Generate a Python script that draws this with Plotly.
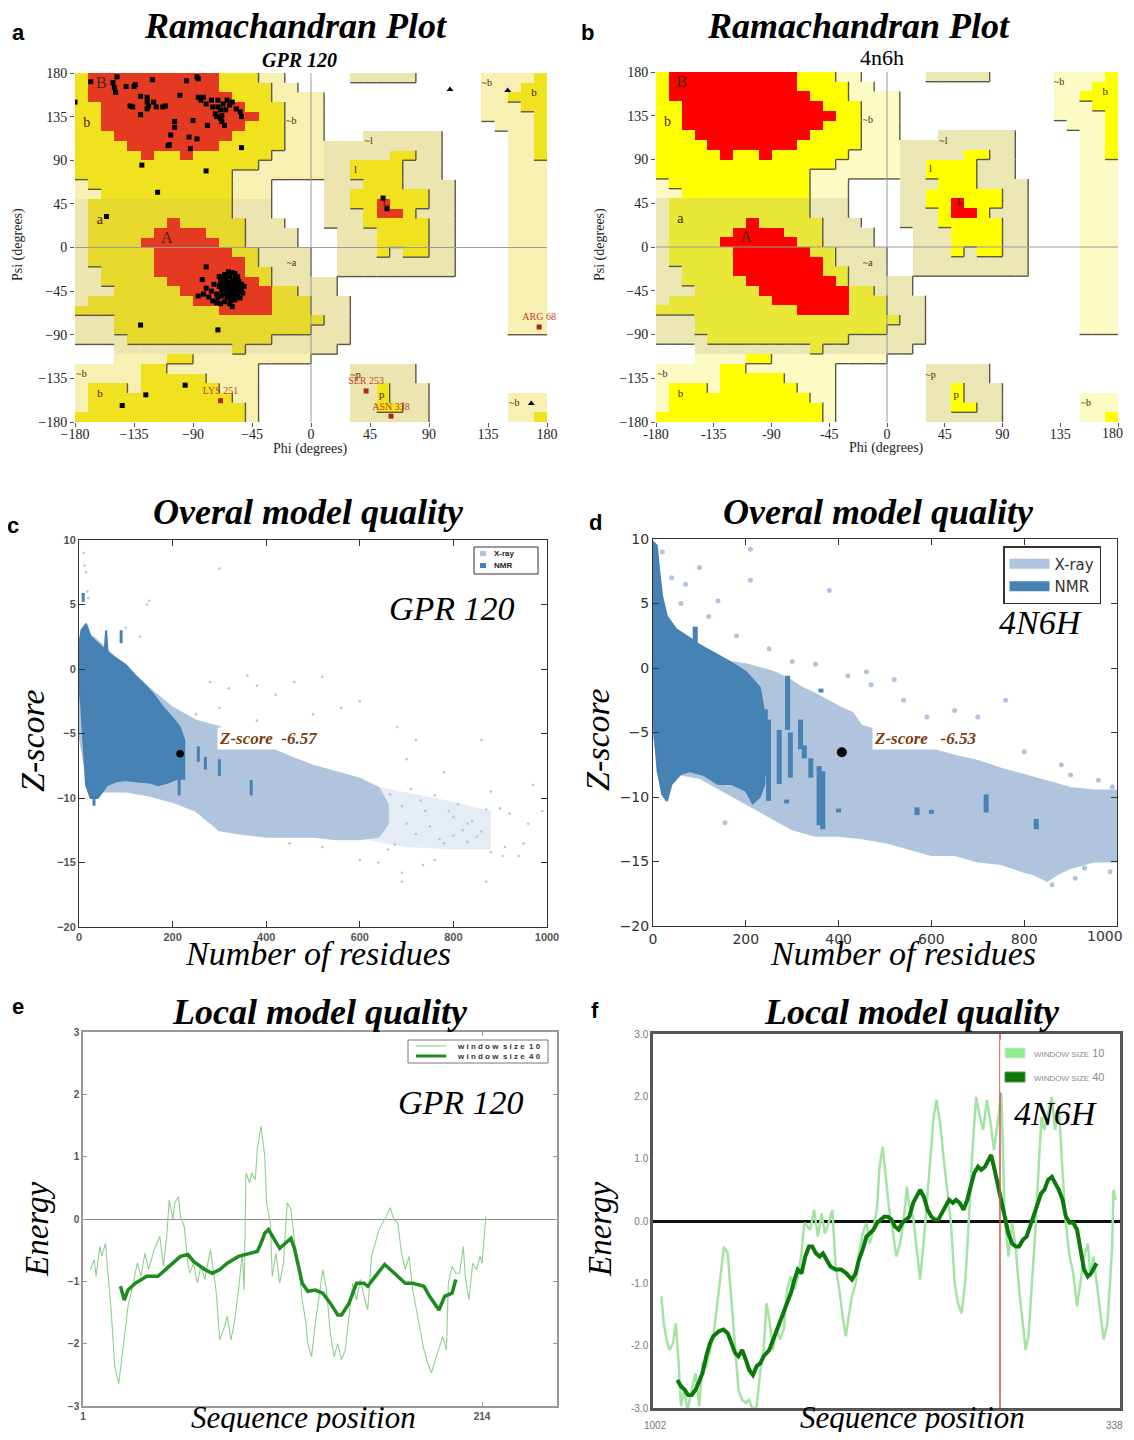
import plotly.graph_objects as go

SERIF = "Liberation Serif"
SANS = "Liberation Sans"
MPL = "DejaVu Sans"

# ---------------- Ramachandran region map (10 deg cells) ----------------
# rows: psi 180 -> -180 (top to bottom); columns: phi -180 -> 180
# '.' disallowed, 'g' generous, 'k' generous (tinted), 'y' allowed, 'o' allowed (tinted), 'R' core
RAMA_ROWS = [
    "y"+"R"*10+"y"*3+"g"*2+"."*2 + "."*3+"k"*5+"."*5 + "g"*4+"y",
    "y"+"R"*10+"y"*4+"g"*2+"." + "."*13 + "g"*3+"y"*2,
    "y"+"R"*11+"y"*3+"g"*3 + "g"+"."*12 + "g"*2+"y"*3,
    "y"*2+"R"*11+"y"*3+"g"*2 + "g"+"."*12 + "g"*3+"y"*2,
    "y"*2+"R"*12+"y"*2+"g"*2 + "g"+"."*12 + "g"*4+"y",
    "y"*2+"R"*11+"y"*3+"g"*2 + "g"+"."*12 + "."+"g"*3+"y",
    "y"*3+"R"*9+"y"*4+"g"*2 + "g"+"."*3+"k"*6+"."*3 + "."*2+"g"*2+"y",
    "y"*4+"R"*7+"y"*5+"g"*2 + "g"+"k"*9+"."*3 + "."*2+"g"*2+"y",
    "y"*5+"R"+"y"*2+"R"+"y"*6+"g"*3 + "g"+"k"*5+"y"*2+"k"*2+"."*3 + "."*2+"g"*2+"y",
    "y"*14+"g"*4 + "g"+"k"*2+"y"*4+"k"*3+"."*3 + "."*2+"g"*3,
    "y"*12+"g"*6 + "g"+"k"*2+"y"*4+"k"*3+"."*3 + "."*2+"g"*3,
    "g"+"y"*11+"g"*3+"."*3 + "."+"k"*3+"y"*3+"k"*4+"."*2 + "."*2+"g"*3,
    "g"*2+"y"*10+"g"*3+"."*3 + "."+"k"*2+"y"*6+"k"*2+"."*2 + "."*2+"g"*3,
    "k"+"o"*11+"k"*3+"."*3 + "."+"k"*2+"y"*2+"R"+"y"*3+"k"*2+"."*2 + "."*2+"g"*3,
    "k"+"o"*11+"k"*3+"."*3 + "."+"k"*3+"y"+"R"*2+"y"+"k"*3+"."*2 + "."*2+"g"*3,
    "k"+"o"*6+"R"+"o"*5+"k"*3+"."*2 + "."+"k"*3+"y"*5+"k"*2+"."*2 + "."*2+"g"*3,
    "k"+"o"*5+"R"*4+"o"*3+"k"*4+"." + "."*2+"k"*3+"y"*4+"k"*2+"."*2 + "."*2+"g"*3,
    "k"+"o"*4+"R"*6+"o"*2+"k"*4+"." + "."*2+"k"*3+"y"*4+"k"*2+"."*2 + "."*2+"g"*3,
    "k"+"o"*5+"R"*6+"o"*2+"k"*4 + "."*2+"k"*3+"y"+"k"+"y"*2+"k"*2+"."*2 + "."*2+"g"*3,
    "k"+"o"*5+"R"*7+"o"+"k"*4 + "."*2+"k"*9+"."*2 + "."*2+"g"*3,
    "k"*2+"o"*4+"R"*7+"o"*2+"k"*3 + "."*2+"k"*9+"."*2 + "."*2+"g"*3,
    "k"*2+"o"*5+"R"*7+"o"+"k"*3 + "k"*2+"."*11 + "."*2+"g"*3,
    "k"*3+"o"*5+"R"*7+"o"*2+"k" + "k"*2+"."*11 + "."*2+"g"*3,
    "k"+"o"*8+"R"*6+"o"*3 + "k"*3+"."*10 + "."*2+"g"*3,
    "o"*11+"R"*4+"o"*3 + "k"*3+"."*10 + "."*2+"g"*3,
    "k"*3+"o"*15 + "o"+"k"*2+"."*10 + "."*2+"g"*3,
    "k"*3+"o"*15 + "k"*3+"."*10 + "."*2+"g"*3,
    "k"*4+"o"*11+"k"*3 + "k"*3+"."*10 + "."*5,
    "."*3+"k"*9+"o"+"k"*5 + "k"*2+"."*11 + "."*5,
    "."*3+"g"*4+"y"*2+"g"*9 + "."*13 + "."*5,
    "g"*5+"y"*2+"g"*7+"."*4 + "."*3+"k"*5+"."*5 + "."*5,
    "g"*5+"y"*5+"g"*4+"."*4 + "."*3+"k"*5+"."*5 + "."*5,
    "g"+"y"*3+"g"+"y"*6+"g"*3+"."*4 + "."*3+"k"*2+"y"+"k"*3+"."*4 + "."*5,
    "g"+"y"*11+"g"*2+"."*4 + "."*3+"k"*2+"y"+"k"*3+"."*4 + "."*2+"g"*3,
    "g"+"y"*12+"g"+"."*4 + "."*3+"k"*2+"y"*2+"k"*2+"."*4 + "."*2+"g"*3,
    "y"*13+"g"+"."*4 + "."*3+"k"*6+"."*4 + "."*2+"g"*2+"y",
]
assert len(RAMA_ROWS) == 36 and all(len(r) == 36 for r in RAMA_ROWS)

REGION_CODE = {'.': 0, 'g': 1, 'k': 2, 'y': 3, 'o': 4, 'R': 5}
REGION_LEVEL = {'.': 0, 'g': 1, 'k': 1, 'y': 2, 'o': 2, 'R': 2}
PAL_A = ['#ffffff', '#f7f0b2', '#ece5b0', '#f1e21f', '#e6d82c', '#e43a22']
PAL_B = ['#ffffff', '#fdfbc4', '#ebe7b5', '#ffff00', '#e9e838', '#ff0000']

# GPR120 residues (phi, psi)
A_PHI = [-180, -168, -151, -150, -149, -148, -141, -135, -134, -138, -136, -130, -130, -125, -125, -125, -124,
         -121, -120, -118, -113, -111, -109, -108, -107, -104, -104, -100, -95, -93, -92, -90, -87, -86, -87,
         -86, -84, -82, -80, -79, -76, -75, -73, -72, -71, -71, -69, -68, -69, -67, -65, -64, -62, -68, -66,
         -60, -57, -54, -53, -53,
         -129, -80, -117, -156, 55, 58, -80, -130, -71, -96, -126, -144,
         -83, -80, -82, -78, -76, -75, -86, -72, -70, -70, -69, -68, -68, -67, -66, -66, -65, -65, -64, -64,
         -63, -63, -62, -62, -61, -61, -60, -60, -60, -59, -59, -58, -58, -58, -57, -57, -56, -56, -55, -55,
         -54, -54, -53, -52, -63, -60, -58, -66, -62, -60, -72, -74, -71, -69, -67, -65, -63, -61, -59, -57,
         -64, -62, -60, -66, -68, -56, -53, -51, -58, -62]
A_PSI = [150, 171, 170, 165, 160, 176, 166, 166, 168, 146, 145, 137, 156, 155, 150, 143, 146,
         173, 150, 145, 145, 146, 105, 106, 116, 124, 130, 157, 172, 114, 102, 131, 176, 174, 112,
         155, 152, 155, 148, 126, 152, 145, 138, 135, 152, 145, 142, 136, 133, 148, 142, 152, 147, 130, 126,
         150, 143, 140, 135, 103,
         85, 79, 57, 32, 51, 40, -20, -80, -85, -142, -152, -163,
         -33, -42, -48, -51, -45, -55, -50, -57, -40, -30, -35, -45, -50, -38, -42, -28, -33, -47, -40, -52,
         -36, -44, -30, -48, -40, -55, -35, -43, -50, -38, -46, -32, -41, -54, -44, -37, -49, -40, -35, -45,
         -42, -52, -38, -47, -25, -26, -27, -56, -58, -61, -48, -38, -52, -58, -32, -38, -50, -45, -42, -50,
         -44, -39, -47, -47, -41, -30, -43, -40, -36, -42]
A_OUT_PHI = [174, 42, -69, 61]
A_OUT_PSI = [-82, -148, -158, -174]
A_OUT_LABEL = ["ARG 68", "SER 253", "LYS 251", "ASN 338"]
A_GLY_PHI = [106, 150, 168]
A_GLY_PSI = [163, 162, -161]

REG_TEXT = ["B", "b", "a", "A", "~b", "~a", "~l", "l", "L", "~p", "p", "~b", "b", "~b", "b", "~b"]
REG_PHI = [-160, -171, -161, -110, -15, -15, 44, 34, 57, 34, 54, -175, -161, 134, 170, 155]
REG_PSI = [169, 128, 28, 9, 130, -17, 109, 80, 46, -132, -152, -131, -151, 169, 159, -161]
REG_SIZE = [16, 14, 14, 16, 10, 10, 10, 11, 11, 10, 11, 10, 11, 10, 11, 10]

PHI_TICKS = [-180, -135, -90, -45, 0, 45, 90, 135, 180]

# ---------------- Overall model quality (z-score vs residues) ----------------
C_XRAY_X = [0, 30, 60, 100, 150, 200, 250, 300, 350, 400, 450, 500, 550, 600, 640, 660,
            660, 640, 600, 550, 500, 450, 400, 350, 300, 250, 200, 150, 100, 50, 20, 0]
C_XRAY_Y = [2.5, 2.5, 1.5, 0, -1.5, -3, -4, -4.5, -5.5, -6, -6.8, -7.5, -8, -8.5, -9.2, -10.5,
            -12, -13, -13.2, -13.2, -13, -13, -13, -12.8, -12.5, -11, -10.3, -9.8, -9.5, -9.5, -9, -5]
C_XTAIL_X = [620, 700, 800, 880, 880, 800, 700, 620]
C_XTAIL_Y = [-9.0, -9.6, -10.3, -11, -14, -14, -13.8, -13.3]
C_NMR_X = [0, 5, 15, 25, 40, 55, 58, 61, 80, 100, 120, 140, 160, 180, 200, 215, 225,
           225, 210, 190, 170, 150, 120, 100, 80, 60, 40, 25, 15, 5, 0]
C_NMR_Y = [1.5, 3, 3.5, 2.5, 2, 1.5, 3, 1.3, 0.8, 0.3, -0.5, -1.2, -2, -3, -3.8, -4.5, -5.5,
           -8.5, -8.5, -8.8, -9, -8.8, -8.7, -8.6, -8.7, -9, -10, -10, -9, -3, -1]
C_SPARSE_X = [10, 12, 15, 18, 20, 8, 150, 145, 300, 100, 130, 360, 380, 320, 460, 520, 420, 500, 560, 600,
              680, 720, 860, 300, 250, 380, 280, 700, 780, 900, 920, 960, 970, 990, 940, 870, 910, 880, 760,
              735, 690, 690, 640, 660, 600, 520, 450, 830, 850, 800, 820, 740, 650, 700, 780, 620, 880, 950, 905,
              710, 730, 760, 790, 810, 840, 860, 870, 720, 750, 770, 800, 830, 690, 665, 675]
C_SPARSE_Y = [9, 8, 7.5, 6, 5.5, 5.8, 5.3, 5, 7.8, 3.2, 2.5, -0.5, -1.3, -1.5, -1, -0.6, -2, -3.5, -3, -2.5,
              -4.5, -5.5, -5.5, -3, -3.5, -4, -1, -7, -8, -10.8, -11.2, -12, -9, -11, -14.5, -16.5, -13.8, -14.2, -14.8,
              -15.2, -15.8, -16.5, -15, -14, -14.8, -13.8, -13.5, -12, -13, -11.5, -12.5, -11, -12.5, -12, -13.5, -11, -9.5, -13.5, -14.5,
              -9.3, -10.2, -9.8, -11, -10.5, -11.8, -12.6, -10.9, -12.8, -12.2, -13.2, -12.9, -13.4, -10.6, -9.7, -13.6]
C_STREAK_X = [255, 270, 300, 368, 214, 32, 90, 9]
C_STREAK_TOP = [-6.0, -6.8, -7.0, -8.6, -7.0, -9.5, 3.0, 5.9]
C_STREAK_BOT = [-7.2, -7.8, -8.3, -9.8, -9.8, -10.6, 2.0, 5.2]
C_Z_RES, C_Z_SCORE = 216, -6.57

D_XRAY_X = [0, 10, 20, 40, 60, 80, 100, 130, 160, 200, 230, 260, 290, 320, 350, 400, 430, 450, 500, 550, 600,
            650, 700, 750, 800, 850, 900, 950, 1000,
            1000, 950, 900, 870, 850, 820, 800, 750, 700, 650, 600, 550, 500, 450, 400, 350, 300, 250, 200, 150,
            100, 50, 20, 0]
D_XRAY_Y = [6, 5, 4, 3.2, 2.5, 2, 1.5, 1, 0.5, 0.3, 0, -0.3, -0.8, -1.5, -2, -3, -3.5, -4.5, -5, -5.8, -6.3,
            -6.8, -7.2, -7.8, -8.3, -8.8, -9.3, -9.5, -9.5,
            -15, -15, -15.5, -16, -16.5, -16, -15.8, -15.2, -15, -14.5, -14.5, -14, -13.5, -13.2, -13, -13, -12.5,
            -11.5, -10.5, -9.5, -8.5, -8.2, -9, -5]
D_NMR_X = [0, 8, 15, 20, 30, 50, 80, 100, 130, 160, 200, 230, 240,
           240, 230, 215, 200, 170, 140, 110, 80, 60, 40, 30, 20, 10, 3, 0]
D_NMR_Y = [9.8, 9.5, 7, 5.5, 4, 3, 2.3, 1.8, 1.2, 0.6, -0.3, -1.5, -3.5,
           -9, -10, -10.5, -9.5, -9, -9, -8.3, -8, -8.2, -9, -10.3, -9.8, -8, -5, -3]
D_SPARSE_X = [20, 100, 210, 210, 380, 140, 70, 40, 180, 300, 420, 460, 520, 470, 540, 590, 760, 650, 700, 800,
              880, 900, 960, 990, 155, 400, 350, 250, 120, 60, 910, 860, 985, 930]
D_SPARSE_Y = [9, 7.8, 9.2, 6.8, 6, 5.2, 6.5, 7, 2.5, 0.5, -0.6, -0.3, -0.9, -1.3, -2.5, -3.8, -2.5, -3.3, -3.8,
              -6.5, -7.5, -8.3, -8.7, -9.2, -12, -4.5, 0.3, 1.5, 4, 5, -16.3, -16.8, -15.8, -15.5]
D_STREAK_X = [91, 242, 249, 272, 290, 296, 318, 326, 340, 358, 366, 288, 400, 569, 718, 826, 362, 600]
D_STREAK_TOP = [3.2, -3.2, -4.0, -4.8, -0.6, -5.0, -4.0, -6.0, -7.0, -7.6, -8.0, -10.2, -10.9, -10.8, -9.8, -11.7, -1.6, -11.0]
D_STREAK_BOT = [1.7, -8.4, -10.3, -9.0, -4.8, -8.5, -6.3, -7.0, -8.5, -12.2, -12.5, -10.5, -11.2, -11.4, -11.2, -12.5, -1.9, -11.3]
D_Z_RES, D_Z_SCORE = 407, -6.53

ZTICKS = [-20, -15, -10, -5, 0, 5, 10]
RES_TICKS = [0, 200, 400, 600, 800, 1000]

# ---------------- Local model quality ----------------
E_W10_X = [5, 7, 8, 10, 11, 13, 14, 16, 18, 20, 21, 23, 25, 27, 30, 32, 34, 36, 39, 42, 44, 46, 47, 49, 50, 52,
           53, 55, 57, 58, 60, 62, 64, 66, 69, 72, 74, 76, 78, 80, 82, 84, 86, 87, 88, 90, 91, 93, 94, 96, 98, 99,
           101, 102, 104, 106, 108, 110, 112, 114, 116, 118, 120, 121, 123, 125, 127, 129, 131, 133, 135, 137,
           139, 141, 143, 145, 147, 149, 151, 153, 155, 157, 159, 162, 165, 167, 169, 171, 173, 175, 177, 179,
           181, 183, 185, 187, 189, 192, 193, 195, 196, 198, 200, 202, 204, 205, 207, 209, 211, 213, 214, 216]
E_W10_Y = [-0.81, -0.65, -0.92, -0.44, -0.60, -0.39, -0.76, -1.46, -2.37, -2.64, -2.42, -1.94, -1.40, -1.14,
           -0.71, -0.92, -0.55, -0.81, -0.49, -0.28, -0.76, -0.17, 0.31, -0.01, 0.26, 0.36, 0.04, -0.12, -0.71,
           -0.87, -0.71, -1.03, -0.76, -0.97, -0.49, -1.14, -1.94, -1.78, -1.56, -1.94, -1.62, -1.14, -0.55,
           -1.14, 0.74, 0.58, 0.74, 0.63, 1.11, 1.49, 1.01, 0.26, -0.06, -0.92, -0.55, -1.03, -0.71, 0.26, 0.15,
           -0.39, -0.71, -1.30, -1.67, -2.00, -2.21, -1.67, -1.24, -0.81, -1.14, -1.83, -2.21, -2.00, -2.26,
           -2.10, -1.56, -1.03, -1.30, -0.97, -1.24, -1.46, -0.60, -0.39, -0.17, -0.01, 0.18, -0.01, -0.06,
           -0.55, -0.81, -0.60, -1.14, -1.46, -1.78, -2.10, -2.31, -2.47, -2.26, -2.00, -1.89, -2.10, -1.03,
           -0.76, -0.87, -0.87, -0.44, -0.92, -1.30, -0.71, -0.81, -0.60, -0.71, 0.04]
E_W40_X = [21, 23, 25, 29, 35, 41, 47, 53, 57, 60, 66, 70, 74, 78, 84, 90, 94, 96, 98, 100, 103, 106, 109, 112,
           114, 118, 121, 125, 129, 133, 137, 139, 143, 147, 151, 153, 157, 162, 165, 169, 173, 177, 183, 186,
           191, 194, 198, 200]
E_W40_Y = [-1.08, -1.30, -1.14, -1.03, -0.92, -0.92, -0.76, -0.60, -0.57, -0.68, -0.81, -0.87, -0.81, -0.71,
           -0.60, -0.55, -0.52, -0.39, -0.23, -0.17, -0.33, -0.47, -0.39, -0.31, -0.49, -1.03, -1.16, -1.14,
           -1.19, -1.35, -1.54, -1.54, -1.35, -1.03, -1.03, -1.08, -0.92, -0.73, -0.81, -0.92, -1.03, -1.03,
           -1.08, -1.24, -1.46, -1.24, -1.19, -0.97]
E_XTICKS, E_XTICKTEXT = [1, 214], ["1", "214"]

F_W10_X = [18, 23, 29, 35, 43, 49, 54, 60, 66, 74, 83, 91, 99, 106, 114, 122, 129, 137, 145, 152, 160, 166, 172,
           177, 183, 191, 199, 206, 214, 222, 230, 237, 243, 249, 257, 264, 272, 280, 287, 295, 303, 310, 318,
           324, 330, 337, 345, 353, 361, 368, 376, 384, 391, 399, 407, 413, 418, 426, 434, 441, 449, 457, 464,
           472, 480, 485, 492, 498, 505, 513, 521, 529, 536, 544, 549, 557, 565, 572, 580, 588, 596, 601, 607,
           615, 622, 630, 638, 646, 653, 661, 669, 676, 684, 692, 700, 707, 715, 723, 730, 738, 746, 753, 761,
           769, 777, 784, 792, 798, 804, 811, 819, 827, 832, 838, 846, 854, 861, 869, 877, 884, 892, 900, 908,
           915, 923, 931, 937, 943, 950, 958, 965, 973, 978, 983, 986, 991]
F_W10_Y = [-1.21, -1.64, -1.90, -2.07, -1.96, -1.64, -2.17, -2.97, -2.71, -3.03, -2.71, -2.44, -2.97, -2.28,
           -2.33, -2.07, -1.85, -1.37, -0.84, -0.41, -0.52, -1.10, -1.64, -2.17, -2.71, -2.87, -2.92, -2.87,
           -3.03, -2.97, -2.39, -2.07, -1.32, -1.58, -2.07, -1.74, -1.90, -1.74, -1.10, -0.89, -1.10, -0.89,
           -0.52, -0.03, -0.09, -0.14, 0.18, -0.25, 0.12, -0.20, -0.03, 0.18, -0.73, -1.10, -1.58, -1.85, -1.58,
           -1.21, -1.00, -0.52, -0.20, -0.03, -0.36, -0.14, 0.23, 0.87, 1.19, 0.71, 0.23, -0.14, -0.57, -0.36,
           -0.03, 0.55, 0.23, 0.07, -0.46, -0.94, -0.30, 0.50, 1.30, 1.67, 1.94, 1.57, 1.03, 0.50, -0.03, -1.00,
           -1.32, -1.48, -0.94, -0.03, 1.14, 1.99, 1.67, 1.46, 1.94, 1.57, 1.14, 1.57, 2.05, 0.07, -0.57, -0.03,
           -0.46, -1.10, -1.64, -2.07, -1.85, -1.00, -0.14, 1.03, 1.67, 1.46, 1.73, 1.99, 1.46, 1.84, 0.77,
           -0.03, -0.57, -0.84, -1.37, -1.00, -0.57, -0.36, -0.89, -0.57, -1.00, -1.42, -1.90, -1.64, -1.10,
           -0.46, 0.50, 0.34]
F_W40_X = [52, 60, 68, 75, 83, 91, 99, 106, 114, 122, 129, 141, 151, 160, 168, 176, 183, 191, 199, 206, 214, 222,
           230, 237, 249, 260, 272, 280, 287, 295, 303, 310, 318, 326, 334, 341, 349, 357, 364, 372, 380, 391,
           403, 414, 426, 434, 441, 449, 457, 464, 472, 480, 488, 495, 503, 511, 518, 526, 534, 542, 549, 557,
           565, 572, 580, 588, 596, 603, 611, 619, 626, 634, 642, 649, 657, 665, 673, 680, 688, 696, 703, 711,
           719, 724, 730, 738, 746, 753, 761, 769, 777, 784, 792, 800, 807, 815, 823, 831, 838, 846, 854, 861,
           869, 877, 884, 892, 900, 908, 915, 923, 931, 938, 946, 950]
F_W40_Y = [-2.55, -2.65, -2.71, -2.79, -2.79, -2.71, -2.57, -2.44, -2.17, -1.96, -1.85, -1.77, -1.74, -1.80,
           -1.96, -2.12, -2.17, -2.07, -2.23, -2.39, -2.47, -2.33, -2.28, -2.17, -2.07, -1.85, -1.58, -1.42,
           -1.32, -1.16, -0.94, -0.78, -0.84, -0.57, -0.41, -0.41, -0.52, -0.57, -0.52, -0.62, -0.73, -0.78,
           -0.78, -0.84, -0.94, -0.84, -0.62, -0.46, -0.25, -0.20, -0.14, -0.03, 0.02, 0.07, 0.07, 0.02, -0.09,
           -0.14, -0.03, 0.02, 0.07, 0.29, 0.39, 0.50, 0.39, 0.18, 0.07, 0.02, 0.02, 0.12, 0.23, 0.34, 0.29,
           0.34, 0.29, 0.18, 0.34, 0.55, 0.77, 0.87, 0.82, 0.87, 0.98, 1.06, 0.87, 0.61, 0.29, 0.07, -0.20,
           -0.36, -0.41, -0.41, -0.30, -0.25, -0.09, 0.07, 0.23, 0.44, 0.50, 0.66, 0.71, 0.61, 0.50, 0.34, 0.07,
           -0.03, -0.03, -0.14, -0.46, -0.78, -0.89, -0.84, -0.73, -0.68]
F_MARK_X = 743
F_XTICKS, F_XTICKTEXT = [0, 1000], ["1002", "338"]
F_YTICKS = [-3, -2, -1, 0, 1, 2, 3]

XRAY_C, NMR_C = "#b0c4de", "#4682b4"
W10_E, W40_E = "#8fd08f", "#1e8c1e"
W10_F, W40_F = "#a3e4a3", "#0b7a0b"

# ---------------- page geometry (the page body adds an 8px offset) ----------------
OFF = 8
FW, FH = 1118, 1424


def fx(px):
    return (px - OFF) / FW


def fy(py):
    return 1 - (py - OFF) / FH


# ---------------------------------------------------------------------------
fig = go.Figure()

psi_centers = [175 - 10 * i for i in range(len(RAMA_ROWS))]
phi_centers = [-175 + 10 * j for j in range(len(RAMA_ROWS[0]))]
zgrid = [[REGION_CODE[ch] for ch in row] for row in RAMA_ROWS]


def discrete_scale(pal):
    n = len(pal)
    cs = []
    for k, c in enumerate(pal):
        cs.append([k / n, c])
        cs.append([(k + 1) / n, c])
    return cs


def boundary_xy(rows):
    xs, ys = [], []
    n, m = len(rows), len(rows[0])
    for i in range(n):
        top = 180 - 10 * i
        bot = top - 10
        for j in range(m):
            left = -180 + 10 * j
            right = left + 10
            lv = REGION_LEVEL[rows[i][j]]
            if j < m - 1 and lv > REGION_LEVEL[rows[i][j + 1]]:
                xs += [right, right, None]
                ys += [top, bot, None]
            if i < n - 1 and lv > REGION_LEVEL[rows[i + 1][j]]:
                xs += [left, right, None]
                ys += [bot, bot, None]
    return xs, ys


bx, by = boundary_xy(RAMA_ROWS)

for ax, pal in (("", PAL_A), ("2", PAL_B)):
    fig.add_trace(go.Heatmap(x=phi_centers, y=psi_centers, z=zgrid, colorscale=discrete_scale(pal),
                             zmin=-0.5, zmax=len(pal) - 0.5, showscale=False, zsmooth=False,
                             hoverinfo="skip", xaxis="x" + ax, yaxis="y" + ax))
    fig.add_trace(go.Scatter(x=bx, y=by, mode="lines", line=dict(color="#5b5746", width=1.4),
                             hoverinfo="skip", showlegend=False, xaxis="x" + ax, yaxis="y" + ax))
    fig.add_trace(go.Scatter(x=REG_PHI, y=REG_PSI, text=REG_TEXT, mode="text",
                             textfont=dict(family=SERIF, size=REG_SIZE, color="#4a2612"),
                             hoverinfo="skip", showlegend=False, xaxis="x" + ax, yaxis="y" + ax))

fig.add_trace(go.Scatter(x=A_PHI, y=A_PSI, mode="markers",
                         marker=dict(symbol="square", size=5, color="black"),
                         showlegend=False, hoverinfo="skip", xaxis="x", yaxis="y"))
fig.add_trace(go.Scatter(x=A_GLY_PHI, y=A_GLY_PSI, mode="markers",
                         marker=dict(symbol="triangle-up", size=6, color="black"),
                         showlegend=False, hoverinfo="skip", xaxis="x", yaxis="y"))
fig.add_trace(go.Scatter(x=A_OUT_PHI, y=A_OUT_PSI, mode="markers+text", text=A_OUT_LABEL,
                         textposition="top center", cliponaxis=False,
                         textfont=dict(family=SERIF, size=10, color="#c4402c"),
                         marker=dict(symbol="square", size=5, color="#a8281c"),
                         showlegend=False, hoverinfo="skip", xaxis="x", yaxis="y"))


def streak_xy(xs, tops, bots):
    lx, ly = [], []
    for x, t, b in zip(xs, tops, bots):
        lx += [x, x, None]
        ly += [t, b, None]
    return lx, ly


def add_quality(ax, xray_x, xray_y, nmr_x, nmr_y, sparse_x, sparse_y, st, zres, zscore, msize, swidth):
    fig.add_trace(go.Scatter(x=xray_x, y=xray_y, fill="toself", fillcolor=XRAY_C, mode="lines",
                             line=dict(color=XRAY_C, width=2), showlegend=False, hoverinfo="skip",
                             xaxis="x" + ax, yaxis="y" + ax))
    fig.add_trace(go.Scatter(x=sparse_x, y=sparse_y, mode="markers",
                             marker=dict(color=XRAY_C, size=msize, line=dict(width=0)),
                             showlegend=False, hoverinfo="skip", xaxis="x" + ax, yaxis="y" + ax))
    fig.add_trace(go.Scatter(x=nmr_x, y=nmr_y, fill="toself", fillcolor=NMR_C, mode="lines",
                             line=dict(color=NMR_C, width=2), showlegend=False, hoverinfo="skip",
                             xaxis="x" + ax, yaxis="y" + ax))
    sx, sy = streak_xy(*st)
    fig.add_trace(go.Scatter(x=sx, y=sy, mode="lines", line=dict(color=NMR_C, width=swidth),
                             showlegend=False, hoverinfo="skip", xaxis="x" + ax, yaxis="y" + ax))
    fig.add_trace(go.Scatter(x=[zres], y=[zscore], mode="markers",
                             marker=dict(color="black", size=msize + 5),
                             showlegend=False, hoverinfo="skip", xaxis="x" + ax, yaxis="y" + ax))


# panel c
fig.add_trace(go.Scatter(x=C_XTAIL_X, y=C_XTAIL_Y, fill="toself", fillcolor="rgba(176,196,222,0.33)",
                         mode="lines", line=dict(width=0), showlegend=False, hoverinfo="skip",
                         xaxis="x3", yaxis="y3"))
add_quality("3", C_XRAY_X, C_XRAY_Y, C_NMR_X, C_NMR_Y, C_SPARSE_X, C_SPARSE_Y,
            (C_STREAK_X, C_STREAK_TOP, C_STREAK_BOT), C_Z_RES, C_Z_SCORE, 2.5, 3)
add_quality("4", D_XRAY_X, D_XRAY_Y, D_NMR_X, D_NMR_Y, D_SPARSE_X, D_SPARSE_Y,
            (D_STREAK_X, D_STREAK_TOP, D_STREAK_BOT), D_Z_RES, D_Z_SCORE, 5, 5)

# legend entries d
for name, col in (("X-ray", XRAY_C), ("NMR", NMR_C)):
    fig.add_trace(go.Scatter(x=[None], y=[None], mode="lines", name=name,
                             line=dict(color=col, width=10),
                             legend="legend2", xaxis="x4", yaxis="y4"))

# panel e
fig.add_trace(go.Scatter(x=E_W10_X, y=E_W10_Y, mode="lines", name="window size 10",
                         line=dict(color=W10_E, width=1.1), showlegend=False, xaxis="x5", yaxis="y5"))
fig.add_trace(go.Scatter(x=E_W40_X, y=E_W40_Y, mode="lines", name="window size 40",
                         line=dict(color=W40_E, width=3.5), showlegend=False, xaxis="x5", yaxis="y5"))

# panel f
fig.add_trace(go.Scatter(x=F_W10_X, y=F_W10_Y, mode="lines", line=dict(color=W10_F, width=2.5),
                         showlegend=False, hoverinfo="skip", xaxis="x6", yaxis="y6"))
fig.add_trace(go.Scatter(x=F_W40_X, y=F_W40_Y, mode="lines", line=dict(color=W40_F, width=4),
                         showlegend=False, hoverinfo="skip", xaxis="x6", yaxis="y6"))

# ---------------------------------------------------------------------------
PANEL_PX = {  # plot areas in page pixels: (left, right, top, bottom)
    "a": (75, 547, 73, 422),
    "b": (656, 1118, 72, 422),
    "c": (79, 547, 540, 927),
    "d": (653, 1117, 539, 926),
    "e": (83, 557, 1032, 1406),
    "f": (653, 1120, 1034, 1408),
}


def dom(p):
    l, r, t, b = PANEL_PX[p]
    return [fx(l), fx(r)], [fy(b), fy(t)]


def labels_but_last(vals):
    # the right-most label of an axis touching the page edge is written separately
    return [str(v) for v in vals[:-1]] + [""]


rama_x = dict(range=[-180, 180], tickvals=PHI_TICKS, ticks="outside", ticklen=4, tickcolor="#555",
              showgrid=False, zeroline=False, showline=False, automargin=False, ticklabelstandoff=-5,
              tickfont=dict(family=SERIF, size=14, color="#222"))
rama_y = dict(range=[-180, 180], tickvals=PHI_TICKS, ticks="outside", ticklen=4, tickcolor="#555",
              showgrid=False, zeroline=False, showline=False, automargin=False,
              tickfont=dict(family=SERIF, size=14, color="#222"))
c_font = dict(family=SANS, size=11, color="#555", weight="bold")
d_font = dict(family=MPL, size=14, color="#333")
frame = dict(showline=True, mirror="ticks", linecolor="#333", linewidth=1, ticks="inside", ticklen=6,
             tickcolor="#333", showgrid=False, zeroline=False, automargin=False)

layout = dict(
    width=FW, height=FH, autosize=False, margin=dict(l=0, r=0, t=0, b=0, pad=0),
    paper_bgcolor="white", plot_bgcolor="white", hovermode=False,
    xaxis=dict(domain=dom("a")[0], anchor="y", **rama_x),
    yaxis=dict(domain=dom("a")[1], anchor="x", **rama_y),
    xaxis2=dict(domain=dom("b")[0], anchor="y2", ticktext=labels_but_last(PHI_TICKS), **rama_x),
    yaxis2=dict(domain=dom("b")[1], anchor="x2", **rama_y),
    xaxis3=dict(domain=dom("c")[0], anchor="y3", range=[0, 1000], tickvals=RES_TICKS, tickfont=c_font, **frame),
    yaxis3=dict(domain=dom("c")[1], anchor="x3", range=[-20, 10], tickvals=ZTICKS, tickfont=c_font, **frame),
    xaxis4=dict(domain=dom("d")[0], anchor="y4", range=[0, 1000], tickvals=RES_TICKS,
                ticktext=labels_but_last(RES_TICKS), tickfont=d_font, **frame),
    yaxis4=dict(domain=dom("d")[1], anchor="x4", range=[-20, 10], tickvals=ZTICKS,
                ticktext=[str(v).replace("-", "\u2212") for v in ZTICKS], tickfont=d_font, **frame),
    xaxis5=dict(domain=dom("e")[0], anchor="y5", range=[1, 254], tickvals=E_XTICKS, ticktext=E_XTICKTEXT,
                showline=True, mirror="ticks", linecolor="#999", linewidth=1.5, ticks="inside", ticklen=4,
                tickcolor="#999", showgrid=False, zeroline=False, automargin=False,
                tickfont=dict(family=SANS, size=10, color="#555", weight="bold")),
    yaxis5=dict(domain=dom("e")[1], anchor="x5", range=[-3, 3], tickvals=F_YTICKS,
                showline=True, mirror="ticks", linecolor="#999", linewidth=1.5, ticks="inside", ticklen=4,
                tickcolor="#999", showgrid=False, zeroline=True, zerolinecolor="#8a8a8a", zerolinewidth=1,
                automargin=False, tickfont=dict(family=SANS, size=10, color="#555", weight="bold")),
    xaxis6=dict(domain=dom("f")[0], anchor="y6", range=[0, 1000], tickvals=F_XTICKS,
                ticktext=["", ""], showline=True, mirror=True, linecolor="#555", linewidth=2.5, ticks="",
                showgrid=False, zeroline=False, automargin=False,
                tickfont=dict(family=SANS, size=10, color="#777")),
    yaxis6=dict(domain=dom("f")[1], anchor="x6", range=[-3, 3], tickvals=F_YTICKS,
                ticktext=["%.1f" % v for v in F_YTICKS],
                showline=True, mirror=True, linecolor="#555", linewidth=2.5, ticks="", showgrid=False,
                zeroline=True, zerolinecolor="#111", zerolinewidth=2.5, automargin=False,
                tickfont=dict(family=SANS, size=10, color="#777")),
    legend2=dict(x=fx(1003), y=fy(546), xanchor="left", yanchor="top", bgcolor="white", bordercolor="#333",
                 borderwidth=1.5, font=dict(family=MPL, size=15, color="#333"), itemwidth=40),
)
fig.update_layout(**layout)

# reference lines
for ax in ("", "2"):
    fig.add_shape(type="line", x0=-180, x1=180, y0=0, y1=0, xref="x" + ax, yref="y" + ax,
                  line=dict(color="#9a9a9a", width=1), layer="above")
    fig.add_shape(type="line", x0=0, x1=0, y0=-180, y1=180, xref="x" + ax, yref="y" + ax,
                  line=dict(color="#9a9a9a", width=1), layer="above")
fig.add_shape(type="line", x0=F_MARK_X, x1=F_MARK_X, y0=-3, y1=3, xref="x6", yref="y6",
              line=dict(color="#d0504a", width=1.5), layer="above")


def ann(text, x, y, size, family=SERIF, weight="normal", style="normal", color="black",
        xref="paper", yref="paper", angle=0, bg=None, xanchor="center"):
    if xref == "paper":
        x = fx(x)
    if yref == "paper":
        y = fy(y)
    fig.add_annotation(text=text, x=x, y=y, xref=xref, yref=yref, showarrow=False,
                       xanchor=xanchor, yanchor="middle", textangle=angle, bgcolor=bg,
                       font=dict(family=family, size=size, weight=weight, style=style, color=color))


def paper_rect(x0, y0, x1, y1, fill=None, line_color=None, line_width=0):
    fig.add_shape(type="rect", xref="paper", yref="paper", x0=fx(x0), x1=fx(x1), y0=fy(y1), y1=fy(y0),
                  fillcolor=fill, line=dict(color=line_color, width=line_width), layer="above")


def paper_line(x0, y0, x1, y1, color, width):
    fig.add_shape(type="line", xref="paper", yref="paper", x0=fx(x0), x1=fx(x1), y0=fy(y0), y1=fy(y1),
                  line=dict(color=color, width=width), layer="above")


# edge tick labels (kept inside the page)
ann(str(PHI_TICKS[-1]), 1125, 433, 14, color="#222", xanchor="right")
ann(str(RES_TICKS[-1]), 1125, 936, 14, family=MPL, color="#333", xanchor="right")
ann(F_XTICKTEXT[0], 655, 1425, 10, family=SANS, color="#777")
ann(F_XTICKTEXT[1], 1125, 1425, 10, family=SANS, color="#777", xanchor="right")

# compact legend for panel c
paper_rect(474, 547, 538, 574, fill="white", line_color="#333", line_width=1)
paper_rect(480, 551, 486, 556, fill=XRAY_C)
paper_rect(480, 563, 486, 568, fill=NMR_C)
ann("X-ray", 492, 553, 8, family=SANS, weight="bold", color="#222", xanchor="left")
ann("NMR", 492, 565, 8, family=SANS, weight="bold", color="#222", xanchor="left")

# compact legend for panel e
paper_rect(408, 1040, 548, 1063, fill="white", line_color="#777", line_width=1)
paper_line(416, 1046, 446, 1046, W10_E, 1.1)
paper_line(416, 1056, 446, 1056, W40_E, 3)
ann("w i n d o w&nbsp;&nbsp;s i z e&nbsp;&nbsp;1 0", 455, 1046, 8, family=SANS, weight="bold", color="#333",
    xanchor="left")
ann("w i n d o w&nbsp;&nbsp;s i z e&nbsp;&nbsp;4 0", 455, 1056, 8, family=SANS, weight="bold", color="#333",
    xanchor="left")

# legend for panel f (white veil over the marker line, as in the original)
paper_rect(1000, 1040, 1116, 1092, fill="rgba(255,255,255,0.8)")
paper_rect(1005, 1048, 1025, 1058, fill="#90ee90", line_color="#c8f0c8", line_width=1)
paper_rect(1005, 1072, 1025, 1082, fill="#0b7a0b", line_color="#4a9a4a", line_width=1)
for lbl, yy in (("10", 1053), ("40", 1077)):
    ann('<span style="font-size:8px">WINDOW SIZE</span> ' + lbl, 1032, yy, 11, family=SANS,
        color="#8a8a8a", xanchor="left")

for lbl, x, y in (("a", 18, 32), ("b", 587, 32), ("c", 13, 525),
                  ("d", 595, 522), ("e", 18, 1006), ("f", 595, 1010)):
    ann(lbl, x, y, 22, family=SANS, weight="bold")

ann("Ramachandran Plot", 295, 26, 36, weight="bold", style="italic")
ann("Ramachandran Plot", 858, 26, 36, weight="bold", style="italic")
ann("GPR 120", 299, 60, 20, weight="bold", style="italic")
ann("4n6h", 882, 57, 22)
ann("Overal model quality", 308, 512, 36, weight="bold", style="italic")
ann("Overal model quality", 878, 512, 36, weight="bold", style="italic")
ann("Local model quality", 320, 1012, 36, weight="bold", style="italic")
ann("Local model quality", 912, 1012, 36, weight="bold", style="italic")

ann("Phi (degrees)", 310, 449, 14, color="#222")
ann("Phi (degrees)", 886, 448, 14, color="#222")
ann("Psi (degrees)", 18, 245, 14, color="#222", angle=-90)
ann("Psi (degrees)", 600, 245, 14, color="#222", angle=-90)
ann("Number of residues", 318, 953, 34, style="italic")
ann("Number of residues", 903, 953, 34, style="italic")
ann("Z-score", 32, 740, 34, style="italic", angle=-90)
ann("Z-score", 597, 740, 34, style="italic", angle=-90)
ann("Sequence position", 303, 1417, 31, style="italic")
ann("Sequence position", 912, 1417, 31, style="italic")
ann("Energy", 37, 1230, 33, style="italic", angle=-90)
ann("Energy", 600, 1230, 33, style="italic", angle=-90)

ann("GPR 120", 797, 4.7, 34, style="italic", xref="x3", yref="y3")
ann("4N6H", 836, 3.5, 34, style="italic", xref="x4", yref="y4")
ann("GPR 120", 203, 1.87, 34, style="italic", xref="x5", yref="y5")
ann("4N6H", 862, 1.72, 34, style="italic", xref="x6", yref="y6")
ann("Z-score&nbsp;&nbsp;-6.57", 405, -5.4, 17, weight="bold", style="italic", color="#7a3d12",
    xref="x3", yref="y3", bg="white")
ann("Z-score&nbsp;&nbsp;&nbsp;-6.53", 588, -5.5, 17, weight="bold", style="italic", color="#7a3d12",
    xref="x4", yref="y4", bg="white")

fig.write_html("out.html")
